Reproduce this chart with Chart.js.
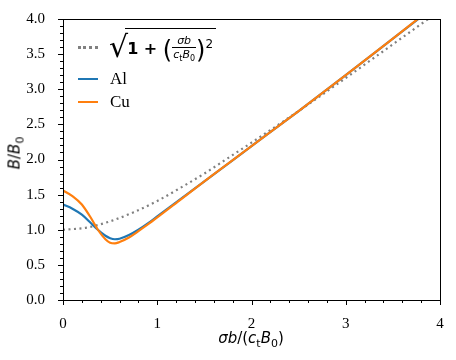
<!DOCTYPE html>
<html>
<head>
<meta charset="utf-8">
<script src="https://cdn.jsdelivr.net/npm/chart.js@4/dist/chart.umd.min.js"></script>
<style>
  html, body { margin: 0; padding: 0; background: #fff; }
  #wrap { position: relative; width: 456px; height: 360px; font-family: "DejaVu Sans", sans-serif; }
  #wrap canvas { position: absolute; left: 0; top: 0; }
  .ov { position: absolute; color: #000; white-space: nowrap; }
  .it { font-style: italic; }
  .ylab { left: 16px; top: 153px; font-size: 15px; transform: translate(-50%, -50%) rotate(-90deg); }
  .xlab { left: 251px; top: 339px; font-size: 15px; transform: translate(-50%, -50%); }
  .sample { position: absolute; width: 20px; height: 0; }
  .leg { font-family: "Liberation Serif", serif; font-size: 17px; }
  .frac { display: inline-block; vertical-align: middle; text-align: center; font-size: 11px; line-height: 11px; }
  .frac .num { display: block; border-bottom: 1px solid #000; padding: 0 1px 1px 1px; }
  .frac .den { display: block; padding: 1px 1px 0 1px; }
</style>
</head>
<body>
<div id="wrap">
  <canvas id="c" width="456" height="360"></canvas>
  <div class="ov ylab"><span class="it">B</span>/<span class="it">B</span><sub style="font-size:11px">0</sub></div>
  <div class="ov xlab"><span class="it">σb</span>/(<span class="it">c</span><sub style="font-size:11px">t</sub><span class="it">B</span><sub style="font-size:11px">0</sub>)</div>

  <div class="sample" style="left:78px; top:46px; border-top:3px dotted #808080;"></div>
  <div class="ov" style="left:109px; top:30px; font-size:16px; line-height:34px;">
    <span style="font-size:30px; vertical-align:middle; position:relative; top:-1px;">√</span><span style="display:inline-block; border-top:1px solid #000; padding:1px 3px 0 2px; vertical-align:middle; position:relative; left:-3px; top:-2px; line-height:28px;"><b style="font-weight:600">1 + </b><span style="font-size:24px; vertical-align:middle;">(</span><span class="frac"><span class="num"><span class="it">σb</span></span><span class="den"><span class="it">c</span><sub style="font-size:8px">t</sub><span class="it">B</span><sub style="font-size:8px">0</sub></span></span><span style="font-size:24px; vertical-align:middle;">)</span><sup style="font-size:12px">2</sup></span>
  </div>

  <div class="sample" style="left:78px; top:78px; border-top:2px solid #1f77b4;"></div>
  <div class="ov leg" style="left:110px; top:69px;">Al</div>
  <div class="sample" style="left:78px; top:101px; border-top:2px solid #ff7f0e;"></div>
  <div class="ov leg" style="left:110px; top:92px;">Cu</div>
</div>
<script>
// values
const curveX = [0, 0.1, 0.2, 0.3, 0.37, 0.45, 0.5, 0.55, 0.6, 0.7, 0.8, 0.9, 1.0, 1.2, 1.5, 2.0, 2.5, 3.0, 3.5, 4.0];
const alY = [1.36, 1.30, 1.215, 1.09, 1.00, 0.915, 0.88, 0.865, 0.872, 0.925, 1.00, 1.09, 1.19, 1.39, 1.69, 2.19, 2.69, 3.20, 3.72, 4.24];
const cuY = [1.56, 1.48, 1.36, 1.16, 1.00, 0.865, 0.815, 0.805, 0.825, 0.89, 0.98, 1.075, 1.175, 1.38, 1.69, 2.19, 2.69, 3.20, 3.72, 4.25];

const refX = [0, 0.25, 0.5, 0.75, 1.0, 1.25, 1.5, 1.75, 2.0, 2.5, 3.0, 3.5, 4.0];
const refY = [1.00, 1.03, 1.12, 1.25, 1.41, 1.60, 1.80, 2.02, 2.24, 2.69, 3.16, 3.64, 4.12];

const xTicks = [0, 1, 2, 3, 4];
const yTicks = [0.0, 0.5, 1.0, 1.5, 2.0, 2.5, 3.0, 3.5, 4.0];

const pts = (xs, ys) => xs.map((x, i) => ({ x: x, y: ys[i] }));

// ticks + frame drawn against the chart's own scales
const axesPlugin = {
  id: "mplAxes",
  afterDraw(chart) {
    const ctx = chart.ctx;
    const a = chart.chartArea;
    const sx = chart.scales.x, sy = chart.scales.y;
    ctx.save();
    ctx.strokeStyle = "#000";
    ctx.lineWidth = 1;
    ctx.beginPath();
    for (let i = 0; i <= 20; i++) {
      const px = Math.round(sx.getPixelForValue(i * 0.2)) + 0.5;
      const len = i % 5 === 0 ? 5 : 3;
      ctx.moveTo(px, a.bottom);
      ctx.lineTo(px, a.bottom + len);
    }
    for (let i = 0; i <= 40; i++) {
      const py = Math.round(sy.getPixelForValue(i * 0.1)) + 0.5;
      const len = i % 5 === 0 ? 5 : 3;
      ctx.moveTo(a.left, py);
      ctx.lineTo(a.left - len, py);
    }
    ctx.stroke();
    ctx.strokeRect(Math.round(a.left) + 0.5, Math.round(a.top) + 0.5, Math.round(a.right - a.left), Math.round(a.bottom - a.top));
    ctx.restore();
  },
};

new Chart(document.getElementById("c"), {
  type: "line",
  data: {
    datasets: [
      { data: pts(refX, refY), order: 2, borderColor: "#808080", borderWidth: 2.2, borderDash: [2, 3.5], cubicInterpolationMode: "monotone", pointRadius: 0 },
      { data: pts(curveX, alY), order: 1, borderColor: "#1f77b4", borderWidth: 2.2, cubicInterpolationMode: "monotone", pointRadius: 0 },
      { data: pts(curveX, cuY), order: 0, borderColor: "#ff7f0e", borderWidth: 2.2, cubicInterpolationMode: "monotone", pointRadius: 0 },
    ],
  },
  options: {
    responsive: false,
    animation: false,
    events: [],
    layout: { padding: { left: 0, top: 17, right: 16, bottom: 0 } },
    plugins: { legend: { display: false }, tooltip: { enabled: false } },
    scales: {
      x: {
        type: "linear", min: 0, max: 4,
        afterBuildTicks: (s) => { s.ticks = xTicks.map((v) => ({ value: v })); },
        afterFit: (s) => { s.height = 60; },
        grid: { display: false },
        border: { display: false },
        ticks: { color: "#000", font: { family: "Liberation Serif", size: 15 }, padding: 7, maxRotation: 0, callback: (v) => String(v) },
      },
      y: {
        type: "linear", min: 0, max: 4,
        afterBuildTicks: (s) => { s.ticks = yTicks.map((v) => ({ value: v })); },
        afterFit: (s) => { s.width = 63; },
        grid: { display: false },
        border: { display: false },
        ticks: { color: "#000", font: { family: "Liberation Serif", size: 15 }, padding: 10, callback: (v) => v.toFixed(1) },
      },
    },
  },
  plugins: [axesPlugin],
});
</script>
</body>
</html>
